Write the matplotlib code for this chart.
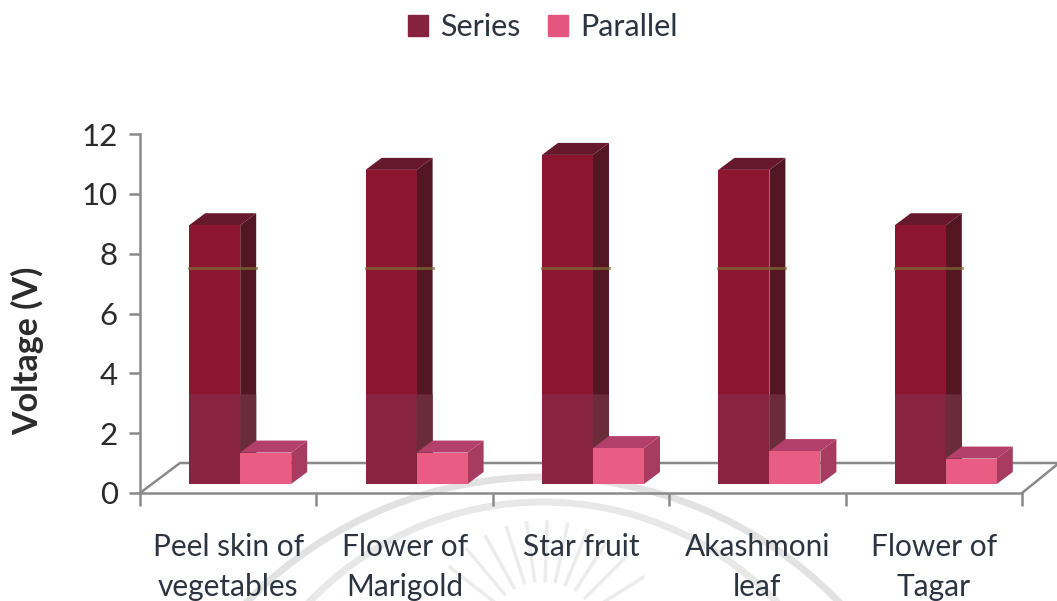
#!/usr/bin/env python3

import matplotlib
matplotlib.use('Agg')
import matplotlib.pyplot as plt
import numpy as np
from matplotlib.patches import Arc, Patch, Polygon

plt.rcParams['font.family'] = ['Lato', 'DejaVu Sans']

categories = ['Peel skin of\nvegetables', 'Flower of\nMarigold', 'Star fruit',
              'Akashmoni\nleaf', 'Flower of\nTagar']
series_v = [8.65, 10.5, 11.0, 10.5, 8.65]
parallel_v = [1.05, 1.05, 1.2, 1.1, 0.85]
y_ticks = [0, 2, 4, 6, 8, 10, 12]

W, H = 1057, 601
# axes box in picture pixels
L, R, T, B = 140, 1022, 134, 493
px_x = 5.0 / (R - L)      # category units per pixel
px_y = 12.0 / (B - T)     # volts per pixel
depth_x = 16 * px_x
depth_y = 12 * px_y
base = 9 * px_y           # bars stand in the middle of the floor
bar_w = 51 * px_x


def bar3d(ax, x, val, front, side, top, z, low_front=None, low_side=None):
    '''One fake 3D bar, front face plus side and top'''
    y0, y1 = base, base + val
    xr = x + bar_w
    ax.add_patch(Polygon([(xr, y0), (xr + depth_x, y0 + depth_y),
                          (xr + depth_x, y1 + depth_y), (xr, y1)],
                         fc=side, ec='none', zorder=z))
    ax.add_patch(Polygon([(x, y1), (x + depth_x, y1 + depth_y),
                          (xr + depth_x, y1 + depth_y), (xr, y1)],
                         fc=top, ec='none', zorder=z))
    ax.bar(x, val, width=bar_w, bottom=y0, align='edge', color=front, lw=0, zorder=z + 1)
    if low_front is not None:
        # paler band across the lower part of the tall bars, and the scan line
        ax.bar(x, 3.3 - y0, width=bar_w, bottom=y0, align='edge', color=low_front, lw=0, zorder=z + 2)
        ax.add_patch(Polygon([(xr, y0), (xr + depth_x, y0 + depth_y),
                              (xr + depth_x, 3.3), (xr, 3.3)],
                             fc=low_side, ec='none', zorder=z + 2))
        ax.plot([x, xr + depth_x], [7.52, 7.52], color='#7d6a35', lw=2, alpha=0.75, zorder=z + 3)


def main():
    '''Main function'''
    fig = plt.figure(figsize=(W / 100, H / 100), dpi=100)
    ax = fig.add_axes([L / W, 1 - B / H, (R - L) / W, (B - T) / H])
    ax.patch.set_alpha(0)
    ax.set_xlim(0, 5)
    ax.set_ylim(0, 12)

    xs = np.arange(len(categories))

    # floor of the 3D box
    grey = '#8a8a8a'
    ax.plot([0, 40 * px_x, 5 + 37 * px_x], [0, 30 * px_y, 30 * px_y], color=grey, lw=1.8,
            clip_on=False, zorder=2)
    ax.plot([5, 5 + 37 * px_x], [0, 30 * px_y], color=grey, lw=1.8, clip_on=False, zorder=2)

    for i in xs:
        left = i + 0.5 - 39 * px_x
        bar3d(ax, left, series_v[i], '#8c1630', '#551624', '#66182c', 3, '#892440', '#6a2c3a')
        bar3d(ax, left + bar_w, parallel_v[i], '#e95c84', '#a83c60', '#b2406a', 8)

    for s in ['top', 'right']:
        ax.spines[s].set_visible(False)
    for s in ['left', 'bottom']:
        ax.spines[s].set_color(grey)
        ax.spines[s].set_linewidth(1.8)

    ax.set_yticks(y_ticks)
    ax.tick_params(axis='y', length=8, width=1.8, color=grey, labelsize=22.5,
                   labelcolor='#2b2b2b', pad=8)
    ax.set_xticks(np.arange(6))
    ax.set_xticklabels([])
    ax.tick_params(axis='x', length=9, width=1.8, color=grey)
    for i in xs:
        ax.annotate(categories[i], (i + 0.5, 0), xytext=(0, -29),
                    textcoords='offset points', ha='center', va='top', fontsize=21.5,
                    color='#2b3440', linespacing=1.5, annotation_clip=False)

    fig.text(28 / W, 1 - 351 / H, 'Voltage (V)', rotation=90, ha='center', va='center',
             fontsize=24.5, fontweight='bold', color='#2b2b2b')

    handles = [Patch(color='#85233f'), Patch(color='#e4557f')]
    fig.legend(handles, ['Series', 'Parallel'], loc='center', ncol=2, frameon=False,
               bbox_to_anchor=(543 / W, 1 - 27 / H), fontsize=22, labelcolor='#2b3440',
               handlelength=0.66, handleheight=0.66, handletextpad=0.4, columnspacing=0.9)

    # faint stamp showing at the bottom of the page
    bg = fig.add_axes([0, 0, 1, 1], zorder=-1)
    bg.set_xlim(0, W)
    bg.set_ylim(H, 0)
    bg.axis('off')
    for top, d, c in [(477, 826, '#e2e2e2'), (502, 646, '#e8e8e8')]:
        bg.add_patch(Arc((543, top + d / 2), d, d, color=c, lw=5))
    for a in np.radians([-52, -40, -29, -18, -8, 2, 12, 22, 33, 45, 58]):
        bg.plot([543 + 60 * np.sin(a), 543 + 118 * np.sin(a)],
                [640 - 60 * np.cos(a), 640 - 118 * np.cos(a)], color='#ececec', lw=2.5)

    plt.savefig('out.png', dpi=100)


if __name__ == '__main__':
    main()
